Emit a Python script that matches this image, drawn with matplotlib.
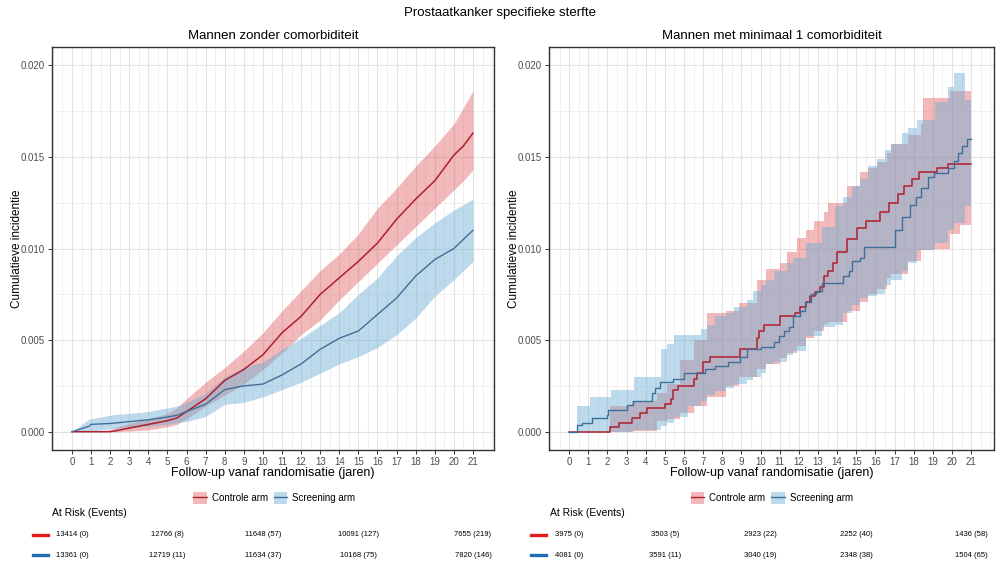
import matplotlib
matplotlib.use('Agg')
import matplotlib.pyplot as plt
from matplotlib.patches import Patch
from matplotlib.lines import Line2D
from matplotlib.ticker import MultipleLocator, FormatStrFormatter
from matplotlib.transforms import blended_transform_factory

plt.rcParams['font.family'] = ['Liberation Sans', 'DejaVu Sans']

# ---- data: Mannen zonder comorbiditeit (left) ----
left_t = [0, 0.9, 1, 2, 2.3, 3, 4, 5, 5.5, 6, 7, 8, 9, 10, 11, 12, 13, 14, 15, 16, 17, 18, 19, 20, 20.5, 21]
left_ctrl = [0, 0, 0, 0, 0.00005, 0.0002, 0.0004, 0.0006, 0.00075, 0.0011, 0.0018, 0.0028, 0.0034, 0.0042,
             0.0054, 0.0063, 0.0075, 0.0084, 0.0093, 0.0103, 0.0116, 0.0127, 0.0137, 0.0151, 0.0156, 0.0163]
left_ctrl_lo = [0, 0, 0, 0, 0, 0.00003, 0.0001, 0.00027, 0.0004, 0.0007, 0.0014, 0.002, 0.0026, 0.0034,
                0.0043, 0.0053, 0.0061, 0.0072, 0.0082, 0.0092, 0.0102, 0.0112, 0.0122, 0.0132, 0.0137, 0.0143]
left_ctrl_hi = [0, 0, 0, 0.0001, 0.00025, 0.00045, 0.0007, 0.001, 0.0013, 0.0018, 0.0027, 0.0035, 0.0044, 0.0054,
                0.0066, 0.0077, 0.0088, 0.0097, 0.0108, 0.0122, 0.0133, 0.0145, 0.0156, 0.0168, 0.0177, 0.0186]
left_scr = [0, 0.0003, 0.0004, 0.00045, 0.00048, 0.00055, 0.00065, 0.0008, 0.0009, 0.0011, 0.0015, 0.0023, 0.0025,
            0.0026, 0.0031, 0.0037, 0.0045, 0.0051, 0.0055, 0.0064, 0.0073, 0.0085, 0.0094, 0.0100, 0.0105, 0.011]
left_scr_lo = [0, 0, 0.00005, 0.00015, 0.00017, 0.0002, 0.0003, 0.0004, 0.0005, 0.00056, 0.00083, 0.0015, 0.0016,
               0.0019, 0.0023, 0.0027, 0.0032, 0.0037, 0.0041, 0.0046, 0.0053, 0.0062, 0.0074, 0.0083, 0.0088, 0.0093]
left_scr_hi = [0, 0.0007, 0.0007, 0.0009, 0.00095, 0.001, 0.0011, 0.0013, 0.0014, 0.0016, 0.0021, 0.003, 0.0035,
               0.0038, 0.0045, 0.0051, 0.0058, 0.0065, 0.0075, 0.0084, 0.0096, 0.0106, 0.0114, 0.0121, 0.0124, 0.0127]

# ---- data: Mannen met minimaal 1 comorbiditeit (right), step curves ----
right_ctrl_t = [0, 2.14, 2.58, 3.27, 3.7, 4.06, 5.0, 5.3, 5.45, 5.7, 6.5, 6.67, 7.0, 7.37, 8.94, 9.8, 9.9, 10.16,
                11.0, 11.8, 12.07, 12.35, 12.6, 12.86, 13.1, 13.3, 13.55, 13.8, 14.0, 14.5, 15.03, 15.5, 16.25,
                16.7, 17.2, 17.5, 17.9, 18.3, 19.2, 19.8, 21.0]
right_ctrl = [0, 0.00027, 0.0005, 0.00073, 0.001, 0.00127, 0.0015, 0.0018, 0.0023, 0.0025, 0.0029, 0.0032, 0.0038,
              0.0041, 0.0045, 0.0051, 0.0055, 0.0058, 0.0063, 0.0065, 0.0068, 0.0071, 0.0074, 0.0076, 0.0079,
              0.0085, 0.0088, 0.0092, 0.0098, 0.0105, 0.0111, 0.0115, 0.012, 0.0125, 0.013, 0.0134, 0.0138,
              0.0142, 0.0144, 0.0146, 0.0146]
right_scr_t = [0, 0.4, 0.66, 1.18, 1.97, 2.05, 3.0, 3.36, 4.32, 4.5, 4.76, 5.45, 5.98, 7.1, 7.6, 8.3, 8.94, 9.3,
               10.0, 10.7, 10.95, 11.2, 11.5, 11.7, 12.07, 12.3, 12.66, 12.9, 13.2, 14.3, 14.6, 14.8, 15.2, 15.4,
               17.0, 17.4, 17.8, 18.1, 18.4, 18.75, 19.05, 19.8, 20.1, 20.3, 20.5, 20.8, 21.0]
right_scr = [0, 0.00036, 0.0005, 0.00073, 0.0009, 0.0012, 0.00145, 0.0017, 0.0021, 0.0024, 0.0027, 0.0029, 0.0032,
             0.0034, 0.0036, 0.0038, 0.0041, 0.0045, 0.0046, 0.0049, 0.0052, 0.0055, 0.0057, 0.0063, 0.0066,
             0.0071, 0.0075, 0.0077, 0.0081, 0.0085, 0.0088, 0.0093, 0.0095, 0.0101, 0.011, 0.0117, 0.0124,
             0.0128, 0.0133, 0.0139, 0.0141, 0.0144, 0.0148, 0.0152, 0.0156, 0.016, 0.016]

right_ctrl_band_t = [0, 2.14, 3.3, 4.6, 5.1, 5.8, 6.5, 7.2, 8.2, 8.9, 9.8, 10.3, 11.0, 11.4, 11.9, 12.4, 12.8,
                     13.3, 13.5, 14.5, 15.2, 15.6, 16.1, 16.6, 16.8, 17.7, 18.4, 18.5, 19.0, 19.9, 20.4, 21.0]
right_ctrl_lo = [0, 0, 0.00005, 0.0006, 0.0007, 0.001, 0.0014, 0.0019, 0.0025, 0.003, 0.0034, 0.0037, 0.004,
                 0.0043, 0.0047, 0.0051, 0.0055, 0.0059, 0.006, 0.0066, 0.0071, 0.0075, 0.0078, 0.0084, 0.0086,
                 0.0093, 0.0099, 0.0099, 0.01, 0.0108, 0.0113, 0.0113]
right_ctrl_hi = [0, 0.0014, 0.0017, 0.0021, 0.0026, 0.0039, 0.005, 0.0065, 0.0066, 0.007, 0.0083, 0.0089, 0.0092,
                 0.0098, 0.0106, 0.011, 0.0115, 0.012, 0.0125, 0.0134, 0.0142, 0.0144, 0.0147, 0.0152, 0.0157,
                 0.0162, 0.0168, 0.0182, 0.0182, 0.0186, 0.0186, 0.0186]

right_scr_band_t = [0, 0.4, 1.1, 2.2, 3.4, 4.8, 5.1, 5.5, 6.2, 6.9, 7.2, 7.6, 8.2, 8.6, 9.3, 9.6, 10.0, 10.3,
                    10.7, 11.4, 11.7, 12.4, 13.2, 13.9, 14.3, 14.8, 15.2, 15.6, 16.1, 16.5, 16.8, 17.4, 17.7,
                    18.2, 19.1, 19.8, 20.1, 20.7, 21.0]
right_scr_lo = [0, 0, 0, 0, 0.0001, 0.0003, 0.00045, 0.0008, 0.0014, 0.0017, 0.002, 0.0022, 0.0024, 0.0026,
                0.0028, 0.003, 0.0032, 0.0037, 0.0038, 0.0042, 0.0044, 0.0052, 0.0057, 0.0058, 0.0065, 0.0069,
                0.0073, 0.0074, 0.0075, 0.008, 0.0083, 0.0088, 0.0092, 0.0099, 0.0103, 0.011, 0.0114, 0.0123,
                0.0123]
right_scr_hi = [0, 0.0014, 0.0019, 0.0023, 0.003, 0.0045, 0.0048, 0.0053, 0.0053, 0.0056, 0.0058, 0.0063, 0.0065,
                0.0068, 0.0072, 0.0077, 0.008, 0.0083, 0.0088, 0.0092, 0.0095, 0.0103, 0.0112, 0.0123, 0.0128,
                0.0134, 0.0138, 0.0145, 0.0149, 0.0154, 0.0157, 0.0163, 0.0166, 0.017, 0.018, 0.0188, 0.0196,
                0.0181, 0.0181]

# ---- at risk tables ----
risk_years = [0, 5, 10, 15, 21]
left_risk_ctrl = ['13414 (0)', '12766 (8)', '11648 (57)', '10091 (127)', '7655 (219)']
left_risk_scr = ['13361 (0)', '12719 (11)', '11634 (37)', '10168 (75)', '7820 (146)']
right_risk_ctrl = ['3975 (0)', '3503 (5)', '2923 (22)', '2252 (40)', '1436 (58)']
right_risk_scr = ['4081 (0)', '3591 (11)', '3040 (19)', '2348 (38)', '1504 (65)']

RED_LINE = '#B01F2E'
BLUE_LINE = '#3F6F99'
RED_FILL = '#E0585B'
BLUE_FILL = '#6BAED6'

fig = plt.figure(figsize=(10.05, 5.74), dpi=100)
ax_l = fig.add_axes([0.0517, 0.216, 0.4398, 0.702])
ax_r = fig.add_axes([0.5463, 0.216, 0.4428, 0.702])


def style_axes(ax, title, xmax):
    ax.set_xlim(-1.05, xmax)
    ax.set_ylim(-0.001, 0.021)
    ax.xaxis.set_major_locator(MultipleLocator(1))
    ax.xaxis.set_minor_locator(MultipleLocator(0.5))
    ax.yaxis.set_major_locator(MultipleLocator(0.005))
    ax.yaxis.set_minor_locator(MultipleLocator(0.0025))
    ax.yaxis.set_major_formatter(FormatStrFormatter('%.3f'))
    ax.set_xticks(range(0, 22))
    ax.grid(which='major', color='#E3E3E3', lw=0.8)
    ax.grid(which='minor', color='#EEEEEE', lw=0.6)
    ax.set_axisbelow(True)
    ax.tick_params(which='major', length=3, width=0.7, color='#333333', labelsize=7, labelcolor='#4D4D4D', pad=2)
    ax.tick_params(which='minor', length=0)
    for sp in ax.spines.values():
        sp.set_color('#333333')
        sp.set_linewidth(1.0)
    ax.set_title(title, fontsize=9.5, pad=6)
    ax.set_ylabel('Cumulatieve incidentie', fontsize=8.5)
    ax.yaxis.set_label_coords(-0.066, 0.5)
    ax.set_xlabel('Follow-up vanaf randomisatie (jaren)', fontsize=9)
    ax.xaxis.set_label_coords(0.5, -0.042)


# left panel
ax_l.fill_between(left_t, left_ctrl_lo, left_ctrl_hi, color=RED_FILL, alpha=0.42, lw=0)
ax_l.fill_between(left_t, left_scr_lo, left_scr_hi, color=BLUE_FILL, alpha=0.45, lw=0)
ax_l.plot(left_t, left_ctrl, color=RED_LINE, lw=1.1)
ax_l.plot(left_t, left_scr, color=BLUE_LINE, lw=1.0)
style_axes(ax_l, 'Mannen zonder comorbiditeit', 22.1)

# right panel
ax_r.fill_between(right_ctrl_band_t, right_ctrl_lo, right_ctrl_hi, step='post', color=RED_FILL, alpha=0.42, lw=0)
ax_r.fill_between(right_scr_band_t, right_scr_lo, right_scr_hi, step='post', color=BLUE_FILL, alpha=0.45, lw=0)
ax_r.plot(right_ctrl_t, right_ctrl, color=RED_LINE, lw=1.1, drawstyle='steps-post')
ax_r.plot(right_scr_t, right_scr, color=BLUE_LINE, lw=1.0, drawstyle='steps-post')
style_axes(ax_r, 'Mannen met minimaal 1 comorbiditeit', 22.2)

fig.text(0.4975, 0.978, 'Prostaatkanker specifieke sterfte', ha='center', va='center', fontsize=9.5)

# legends
handles = [(Patch(facecolor=RED_FILL, alpha=0.42), Line2D([], [], color=RED_LINE, lw=1)),
           (Patch(facecolor=BLUE_FILL, alpha=0.45), Line2D([], [], color=BLUE_LINE, lw=1))]
labels = ['Controle arm', 'Screening arm']
for cx in (0.273, 0.768):
    fig.legend(handles, labels, loc='center', bbox_to_anchor=(cx, 0.1324), ncol=2, frameon=False,
               fontsize=7, handlelength=1.4, handleheight=1.4, handletextpad=0.5, columnspacing=0.6)

# at risk tables
for ax, ctrl, scr, x0 in ((ax_l, left_risk_ctrl, left_risk_scr, 0.033),
                          (ax_r, right_risk_ctrl, right_risk_scr, 0.528)):
    tr = blended_transform_factory(ax.transData, fig.transFigure)
    fig.text(x0 + 0.019, 0.106, 'At Risk (Events)', ha='left', va='center', fontsize=7.5)
    for row, col, y in ((ctrl, '#E41A1C', 0.068), (scr, '#1F6DB3', 0.033)):
        fig.add_artist(Line2D([x0, x0 + 0.015], [y, y], color=col, lw=2.4, transform=fig.transFigure))
        for yr, txt in zip(risk_years, row):
            ax.text(yr, y, txt, transform=tr, ha='center', va='center', fontsize=5.5, clip_on=False)

fig.savefig('out.png', dpi=100)
